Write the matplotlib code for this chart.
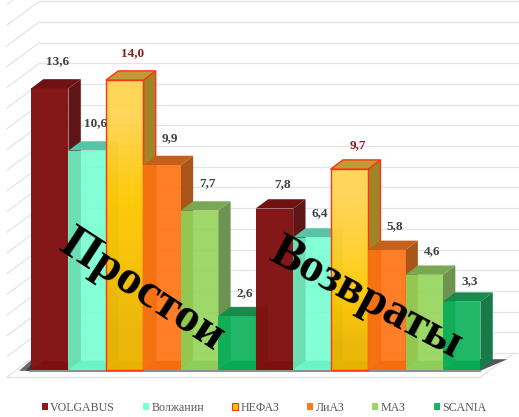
import numpy as np
import matplotlib
matplotlib.use('Agg')
import matplotlib.pyplot as plt
from matplotlib.patches import Patch

# --- DATA ---
groups = ['Простои', 'Возвраты']
series_names = ['VOLGABUS', 'Волжанин', 'НЕФАЗ', 'ЛиАЗ', 'МАЗ', 'SCANIA']
volgabus = [13.6, 7.8]
volzhanin = [10.6, 6.4]
nefaz = [14.0, 9.7]
liaz = [9.9, 5.8]
maz = [7.7, 4.6]
scania = [2.6, 3.3]
all_series = [volgabus, volzhanin, nefaz, liaz, maz, scania]

# front, top, side colours per series
front_colors = ['#801010', '#70ffcf', '#ffc800', '#ff7010', '#92d458', '#08b058']
top_colors = ['#6e1212', '#58c4a6', '#c09a34', '#c4601a', '#7aa852', '#178a4c']
side_colors = ['#5e1616', '#50b898', '#a08428', '#aa5618', '#6c9450', '#177a48']
front_alpha = [0.97, 0.86, 0.96, 0.9, 0.9, 0.9]
legend_colors = ['#8b1a1a', '#7dffd4', '#ffc000', '#ff7a1c', '#9ad666', '#18b560']

# 3D look, in data units (1 x unit = one bar, 1 y unit = one value)
DX, DY = 0.33, 0.45
WALL_X0, WALL_X1 = -0.64, 0.227
WALL_Y = 0.82
GRID = '#e4e4e4'
RED_EDGE = '#ff3414'

fig = plt.figure(figsize=(5.19, 4.17), dpi=100)
ax = fig.add_axes([0, 0, 1, 1])
XLIM = (-31 / 37.45, (519 - 31) / 37.45)
YLIM = ((370 - 417) / 20.7, 370 / 20.7)
ax.axis('off')

# walls
for k in range(0, 19):
    y = k + WALL_Y
    ax.plot([WALL_X1, XLIM[1]], [y, y], color=GRID, lw=0.9, zorder=1)
    ax.plot([WALL_X0, WALL_X1], [y - 1.16, y], color=GRID, lw=0.9, zorder=1)

# floor
ax.plot([WALL_X0, 12.0], [-0.34, -0.34], color=GRID, lw=0.9, zorder=1)
ax.plot([12.0, 12.9], [-0.34, WALL_Y], color=GRID, lw=0.9, zorder=1)

# shadow under the bars
ax.fill([-0.32, 0.02, 0.02, -0.02], [-0.04, 0.5, -0.04, -0.04], color='#6a6a6a', lw=0, zorder=1.6)
ax.fill([-0.14, 0.02, 0.02, -0.02], [-0.04, 0.3, -0.04, -0.04], color='#3a3a3a', lw=0, zorder=1.65)
ax.fill([11.98, 12.72, 12.33, 11.98], [-0.05, 0.52, 0.52, 0.52], color='#555555', lw=0, zorder=1.6)
ax.plot([-0.02, 12.0], [-0.06, -0.06], color='#8c8c8c', lw=1.4, zorder=1.7)

z = 2.0
for g in range(len(groups)):
    for s, vals in enumerate(all_series):
        v = vals[g]
        i = g * 6 + s
        is_nefaz = s == 2
        edge = RED_EDGE if is_nefaz else 'none'
        lw = 1.0 if is_nefaz else 0

        # floor of the translucent bar
        ax.fill([i, i + 1, i + 1 + DX, i + DX], [0, 0, DY, DY], color=side_colors[s], lw=0, zorder=z)
        # side
        ax.fill([i + 1, i + 1 + DX, i + 1 + DX, i + 1], [0, DY, v + DY, v],
                facecolor=side_colors[s], edgecolor=edge, lw=lw, zorder=z + 0.01)
        # top
        ax.fill([i, i + 1, i + 1 + DX, i + DX], [v, v, v + DY, v + DY],
                facecolor=top_colors[s], edgecolor=edge, lw=lw, zorder=z + 0.02)
        # front
        if is_nefaz:
            if g == 0:
                grad = np.array([[1.0], [0.55], [0.3], [0.0]])
            else:
                grad = np.array([[1.0], [0.8], [0.5], [0.0]])
            cmap = matplotlib.colors.LinearSegmentedColormap.from_list(
                'nefaz', ['#ebb400', '#ffc800', '#ffd452'])
            ax.imshow(grad, extent=[i, i + 1, 0, v], origin='upper', aspect='auto', cmap=cmap,
                      vmin=0, vmax=1, interpolation='bilinear', alpha=front_alpha[s], zorder=z + 0.03)
            ax.fill([i, i + 1, i + 1, i], [0, 0, v, v], facecolor='none', edgecolor=edge,
                    lw=1.0, zorder=z + 0.04)
        else:
            ax.fill([i, i + 1, i + 1, i], [0, 0, v, v], color=front_colors[s], alpha=front_alpha[s],
                    lw=0, zorder=z + 0.03)
        z += 0.1

# value labels go on top of all bars
for g in range(len(groups)):
    for s, vals in enumerate(all_series):
        v = vals[g]
        i = g * 6 + s
        off = 8 if s == 5 else 10.5
        if g == 0:
            off += 2.2
        ax.annotate(f'{v:.1f}'.replace('.', ','), (i + 0.5 + DX / 2, v + DY),
                    xytext=(1.5, off), textcoords='offset points',
                    ha='center', va='center', fontsize=9.5, fontweight='bold',
                    family='Liberation Serif',
                    color='#8b1a1a' if s == 2 else '#404040', zorder=20)

ax.set_xlim(XLIM)
ax.set_ylim(YLIM)

# big rotated captions
fig.text(142 / 519, 1 - 290 / 417, groups[0], rotation=-33, rotation_mode='anchor',
         ha='center', va='center', fontsize=35, fontweight='bold',
         family='Liberation Serif', color='black', zorder=30)
fig.text(366 / 519, 1 - 298 / 417, groups[1], rotation=-28, rotation_mode='anchor',
         ha='center', va='center', fontsize=34.5, fontweight='bold',
         family='Liberation Serif', color='black', zorder=30)

handles = [Patch(facecolor=c, edgecolor=RED_EDGE if n == 'НЕФАЗ' else 'none',
                 lw=0.8 if n == 'НЕФАЗ' else 0, label=n)
           for n, c in zip(series_names, legend_colors)]
fig.legend(handles=handles, ncol=6, loc='center', bbox_to_anchor=(264 / 519, 1 - 408 / 417),
           frameon=False, prop={'family': 'Liberation Serif', 'size': 8.6}, labelcolor='#595959',
           handlelength=0.5, handleheight=0.5, handletextpad=0.2, columnspacing=2.35,
           borderpad=0, borderaxespad=0)

fig.savefig('out.png', dpi=100)
